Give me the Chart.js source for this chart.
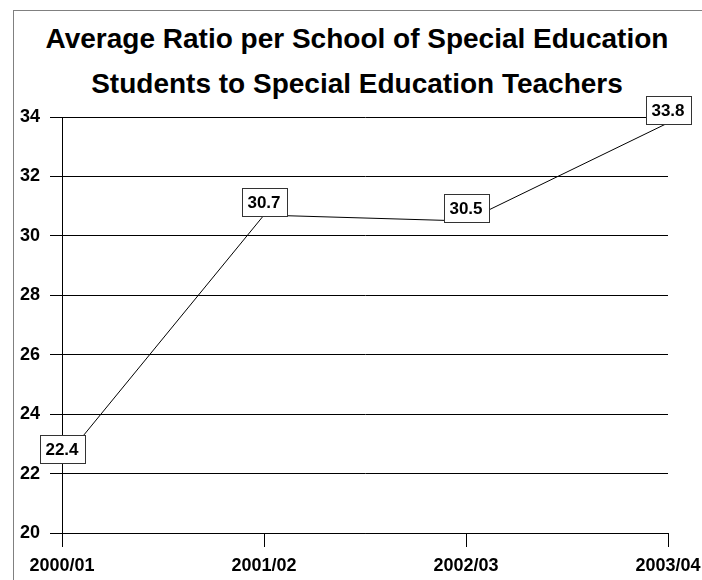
<!DOCTYPE html>
<html>
<head>
<meta charset="utf-8">
<script src="https://cdn.jsdelivr.net/npm/chart.js@4/dist/chart.umd.min.js"></script>
<style>
    html, body { margin: 0; padding: 0; background: #fff; overflow: hidden; }
    .wrap { position: relative; width: 702px; height: 580px; }
    .frame {
        position: absolute; left: 13px; top: 10px; width: 800px; height: 700px;
        border-left: 1px solid #808080; border-top: 1px solid #808080;
    }
    .title {
        position: absolute; left: 0; top: 16px; width: 714px; text-align: center;
        font: bold 28px/45px "Liberation Sans", Arial, sans-serif; color: #000;
    }
    canvas { position: absolute; left: 0; top: 0; }
</style>
</head>
<body>
<div class="wrap">
    <div class="frame"></div>
    <div class="title">Average Ratio per School of Special Education<br>Students to Special Education Teachers</div>
    <canvas id="ratioChart" width="702" height="580"></canvas>
</div>
<script>
const years = ['2000/01', '2001/02', '2002/03', '2003/04'];
const ratios = [22.4, 30.7, 30.5, 33.8];
const yTicks = [20, 22, 24, 26, 28, 30, 32, 34];

const FONT = '"Liberation Sans", Arial, sans-serif';

// Boxed value labels sitting just above each point
const boxLabels = {
    id: 'boxLabels',
    afterDatasetsDraw(chart) {
        const ctx = chart.ctx;
        const meta = chart.getDatasetMeta(0);
        ctx.save();
        ctx.font = 'bold 17px ' + FONT;
        ctx.textAlign = 'center';
        ctx.textBaseline = 'middle';
        meta.data.forEach((pt, i) => {
            const text = ratios[i].toFixed(1);
            const w = Math.round(ctx.measureText(text).width) + 12;
            const h = 28;
            const x = Math.round(pt.x - w / 2) + 0.5;
            const y = Math.round(pt.y + 1 - h) + 0.5;
            ctx.fillStyle = '#fff';
            ctx.fillRect(x, y, w, h);
            ctx.strokeStyle = '#333';
            ctx.lineWidth = 1;
            ctx.strokeRect(x, y, w, h);
            ctx.fillStyle = '#000';
            ctx.fillText(text, pt.x, y + h / 2 + 1);
        });
        ctx.restore();
    }
};

new Chart(document.getElementById('ratioChart'), {
    type: 'line',
    data: {
        labels: years,
        datasets: [{
            data: ratios,
            borderColor: '#000',
            borderWidth: 1,
            pointRadius: 0,
            tension: 0,
            fill: false
        }]
    },
    options: {
        responsive: false,
        animation: false,
        layout: { padding: { top: 117, right: 34, bottom: 0, left: 0 } },
        plugins: {
            legend: { display: false },
            tooltip: { enabled: false }
        },
        scales: {
            x: {
                offset: false,
                // last label is allowed to run off the right edge
                afterFit: (scale) => {
                    scale.height = 47;
                    scale.paddingLeft = 0;
                    scale.paddingRight = 0;
                },
                grid: {
                    drawOnChartArea: false,
                    drawTicks: true,
                    tickLength: 14,
                    color: '#000'
                },
                border: { color: '#000' },
                ticks: {
                    color: '#000',
                    font: { family: FONT, size: 18, weight: 'bold' },
                    padding: 8,
                    maxRotation: 0
                }
            },
            y: {
                min: 20,
                max: 34,
                afterFit: (scale) => {
                    scale.width = 62;
                    scale.paddingTop = 0;
                    scale.paddingBottom = 0;
                },
                afterBuildTicks: (scale) => { scale.ticks = yTicks.map(v => ({ value: v })); },
                grid: {
                    color: '#000',
                    tickLength: 12
                },
                border: { color: '#000' },
                ticks: {
                    color: '#000',
                    font: { family: FONT, size: 18, weight: 'bold' },
                    padding: 10
                }
            }
        }
    },
    plugins: [boxLabels]
});
</script>
</body>
</html>
